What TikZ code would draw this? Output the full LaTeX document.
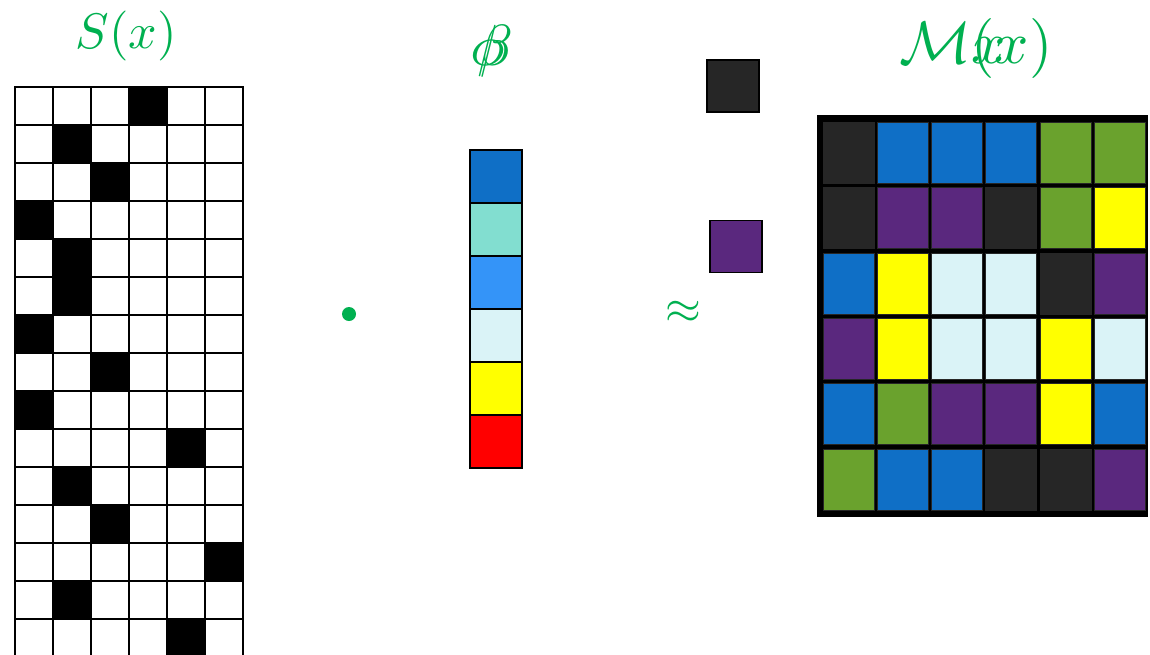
\documentclass[tikz,border=0pt]{standalone}
\usepackage{amsmath}
\definecolor{tgreen}{RGB}{0,176,80}
\definecolor{mdk}{RGB}{38,38,38}
\definecolor{mbl}{RGB}{15,111,198}
\definecolor{mgr}{RGB}{106,162,45}
\definecolor{mpu}{RGB}{90,40,126}
\definecolor{myl}{RGB}{255,255,0}
\definecolor{mlc}{RGB}{218,243,247}
\definecolor{vteal}{RGB}{130,222,208}
\definecolor{vsky}{RGB}{52,148,248}
\definecolor{vred}{RGB}{255,0,0}
\tikzset{
  scell/.style={draw=black, line width=1.6pt, minimum width=38pt, minimum height=38pt, inner sep=0pt, outer sep=0pt},
  vcell/.style={draw=black, line width=2.6pt, minimum width=52pt, minimum height=53pt, inner sep=0pt},
  mcell/.style={draw=black!85, line width=0.6pt, minimum width=51pt, minimum height=61pt, inner sep=0pt},
  sq/.style={draw=black, line width=1.4pt, minimum size=52pt, inner sep=0pt},
  lab/.style={text=tgreen, inner sep=0pt, anchor=base}
}
\begin{document}
\begin{tikzpicture}[x=1pt,y=-1pt]
\useasboundingbox (0,0) rectangle (1150,654);
\fill[white] (0,0) rectangle (1150,654);
% left grid S(x)
\foreach \r/\b in {0/3,1/1,2/2,3/0,4/1,5/1,6/0,7/2,8/0,9/4,10/1,11/2,12/5,13/1,14/4}{
  \foreach \c in {0,...,5}{
    \def\fc{white}\ifnum\c=\b\relax\def\fc{black}\fi
    \node[scell, fill=\fc] (s-\r-\c) at ({34+38*\c},{106+38*\r}) {};
  }
}
\node[lab, scale=5.0] (ls) at (126,48) {$S(x)$};
% dot
\node[circle, fill=tgreen, minimum size=14pt, inner sep=0pt] (dot) at (349,314) {};
% vector
\foreach \i/\col in {0/mbl,1/vteal,2/vsky,3/mlc,4/myl,5/vred}{
  \node[vcell, fill=\col] (v-\i) at (496,{176.5+53*\i}) {};
}
\node[lab, scale=5.8] (lbeta) at (495,65) {$\beta$};
\node[lab, scale=5.8] (lphi) at (488,65) {$\phi$};
% approx
\node[text=tgreen, inner sep=0pt, scale=4.6] (approx) at (683,312) {$\approx$};
% squares
\node[sq, fill=mdk] (bsq) at (733,86) {};
\node[sq, fill=mpu] (psq) at (736,246.5) {};
% matrix
\fill[black] (817,115) rectangle (1148,517);
\foreach \r/\row in {0/{mdk,mbl,mbl,mbl,mgr,mgr},1/{mdk,mpu,mpu,mdk,mgr,myl},2/{mbl,myl,mlc,mlc,mdk,mpu},3/{mpu,myl,mlc,mlc,myl,mlc},4/{mbl,mgr,mpu,mpu,myl,mbl},5/{mgr,mbl,mbl,mdk,mdk,mpu}}{
  \foreach \col [count=\c from 0] in \row {
    \node[mcell, fill=\col] (m-\r-\c) at ({848.5+54.2*\c},{152.5+65.4*\r}) {};
  }
}
\node[lab, scale=6.0] (lm) at (976,63) {$\mathcal{M}\rlap{$x$}(x)$};
\end{tikzpicture}
\end{document}
